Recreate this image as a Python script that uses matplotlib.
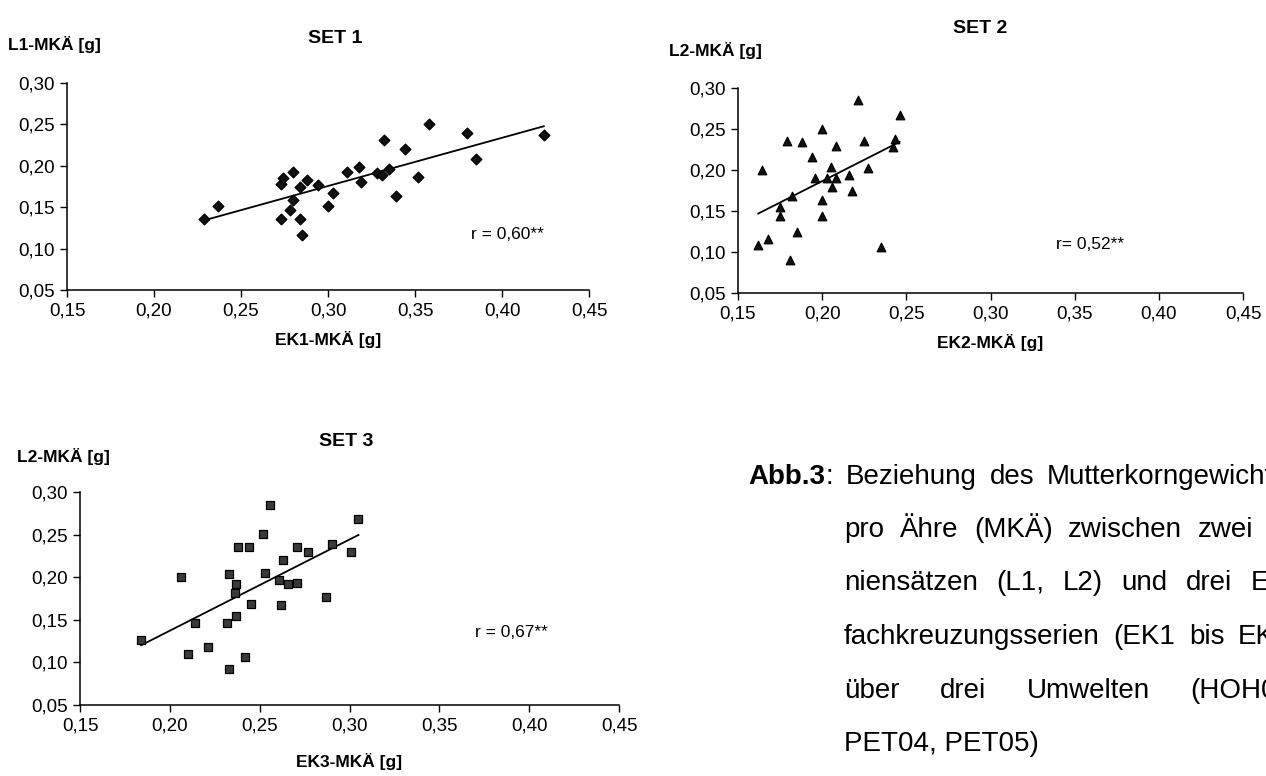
import matplotlib
matplotlib.use('Agg')
import matplotlib.pyplot as plt
import numpy as np
from matplotlib.ticker import FuncFormatter, MultipleLocator

plt.rcParams['font.family'] = ['Liberation Sans', 'DejaVu Sans']

# SET 1: EK1-MKÄ vs L1-MKÄ
set1_x = [0.229, 0.237, 0.273, 0.274, 0.280, 0.273, 0.278, 0.280, 0.284, 0.284,
          0.285, 0.288, 0.294, 0.300, 0.303, 0.311, 0.318, 0.319, 0.328, 0.331,
          0.332, 0.335, 0.339, 0.344, 0.352, 0.358, 0.380, 0.385, 0.424]
set1_y = [0.136, 0.152, 0.178, 0.185, 0.193, 0.136, 0.147, 0.159, 0.175, 0.136,
          0.117, 0.183, 0.177, 0.151, 0.167, 0.193, 0.199, 0.181, 0.191, 0.189,
          0.231, 0.196, 0.164, 0.220, 0.186, 0.250, 0.240, 0.208, 0.237]

# SET 2: EK2-MKÄ vs L2-MKÄ
set2_x = [0.162, 0.164, 0.168, 0.175, 0.175, 0.179, 0.181, 0.182, 0.185, 0.188,
          0.194, 0.196, 0.200, 0.200, 0.200, 0.203, 0.205, 0.206, 0.208, 0.208,
          0.216, 0.218, 0.221, 0.225, 0.227, 0.235, 0.242, 0.243, 0.246]
set2_y = [0.109, 0.200, 0.116, 0.155, 0.144, 0.235, 0.090, 0.168, 0.124, 0.234,
          0.216, 0.190, 0.164, 0.144, 0.250, 0.190, 0.204, 0.179, 0.229, 0.190,
          0.194, 0.174, 0.285, 0.235, 0.202, 0.106, 0.228, 0.238, 0.267]

# SET 3: EK3-MKÄ vs L2-MKÄ
set3_x = [0.184, 0.206, 0.210, 0.214, 0.221, 0.232, 0.233, 0.233, 0.236, 0.237,
          0.237, 0.238, 0.242, 0.244, 0.245, 0.252, 0.253, 0.256, 0.261, 0.262,
          0.263, 0.266, 0.271, 0.271, 0.277, 0.287, 0.290, 0.301, 0.305]
set3_y = [0.126, 0.200, 0.110, 0.146, 0.118, 0.146, 0.204, 0.092, 0.182, 0.155,
          0.192, 0.235, 0.106, 0.236, 0.169, 0.251, 0.205, 0.285, 0.197, 0.167,
          0.220, 0.192, 0.236, 0.193, 0.230, 0.177, 0.239, 0.230, 0.268]

titles = ['SET 1', 'SET 2', 'SET 3']
ylabels = ['L1-MKÄ [g]', 'L2-MKÄ [g]', 'L2-MKÄ [g]']
xlabels = ['EK1-MKÄ [g]', 'EK2-MKÄ [g]', 'EK3-MKÄ [g]']
r_texts = ['r = 0,60**', 'r= 0,52**', 'r = 0,67**']

caption = [
    ['*Abb.3', ':', 'Beziehung', 'des', 'Mutterkorngewichts'],
    ['pro', 'Ähre', '(MKÄ)', 'zwischen', 'zwei', 'Li-'],
    ['niensätzen', '(L1,', 'L2)', 'und', 'drei', 'Ein-'],
    ['fachkreuzungsserien', '(EK1', 'bis', 'EK3)'],
    ['über', 'drei', 'Umwelten', '(HOH04,'],
    ['PET04, PET05)'],
]

W, H = 1266, 776
fig = plt.figure(figsize=(W / 100, H / 100), dpi=100)


def comma(v, pos):
    return f'{v:.2f}'.replace('.', ',')


def panel(rect, x, y, marker, size, face, i, title_xy, ylab_xy, r_xy, xpad):
    ax = fig.add_axes(rect)
    ax.scatter(x, y, marker=marker, s=size, facecolor=face,
               edgecolor='black', linewidths=0.9, zorder=3)
    k, d = np.polyfit(x, y, 1)
    xx = np.array([min(x), max(x)])
    ax.plot(xx, k * xx + d, color='black', lw=1.3)

    ax.set_xlim(0.15, 0.45)
    ax.set_ylim(0.05, 0.30)
    ax.xaxis.set_major_locator(MultipleLocator(0.05))
    ax.yaxis.set_major_locator(MultipleLocator(0.05))
    ax.xaxis.set_major_formatter(FuncFormatter(comma))
    ax.yaxis.set_major_formatter(FuncFormatter(comma))
    ax.tick_params(direction='out', length=5, width=1, labelsize=13.5, pad=4)
    for s in ['top', 'right']:
        ax.spines[s].set_visible(False)
    for s in ['left', 'bottom']:
        ax.spines[s].set_linewidth(1.1)

    ax.set_xlabel(xlabels[i], fontsize=12.5, fontweight='bold', labelpad=xpad)
    ax.text(*title_xy, titles[i], fontsize=14, fontweight='bold',
            ha='center', va='center', clip_on=False)
    ax.text(*ylab_xy, ylabels[i], fontsize=12.5, fontweight='bold',
            ha='left', va='center', clip_on=False)
    ax.text(*r_xy, r_texts[i], fontsize=12.5, ha='left', va='center')
    return ax


panel([67 / W, 1 - 290 / H, 522 / W, 207 / H], set1_x, set1_y, 'D', 30,
      '#111111', 0, (0.304, 0.354), (0.116, 0.347), (0.382, 0.117), 8)
panel([738 / W, 1 - 293 / H, 505 / W, 205 / H], set2_x, set2_y, '^', 38,
      '#111111', 1, (0.294, 0.372), (0.109, 0.346), (0.339, 0.109), 8)
panel([80 / W, 1 - 705 / H, 539 / W, 213 / H], set3_x, set3_y, 's', 30,
      '#3a3a3a', 2, (0.298, 0.359), (0.115, 0.342), (0.370, 0.135), 13)

# caption: justified block that runs past the right edge of the page
cap_fs = 20
right = 1300
renderer = fig.canvas.get_renderer()
baselines = [484, 537, 590, 644, 698, 751]
for n, words in enumerate(caption):
    left = 748 if n == 0 else 844
    texts = []
    for w in words:
        bold = w.startswith('*')
        texts.append(fig.text(0, 1 - baselines[n] / H, w.lstrip('*'),
                              fontsize=cap_fs, va='baseline',
                              fontweight='bold' if bold else 'normal'))
    widths = [t.get_window_extent(renderer).width for t in texts]
    if n == 0:
        gap = 13
    elif len(words) > 1 and n < 5:
        gap = (right - left - sum(widths)) / (len(words) - 1)
    else:
        gap = 0
    xpos = left
    for j, (t, w) in enumerate(zip(texts, widths)):
        if n == 0 and j == 1:
            xpos -= gap
        t.set_x(xpos / W)
        xpos += w + gap

fig.savefig('out.png', dpi=100)
